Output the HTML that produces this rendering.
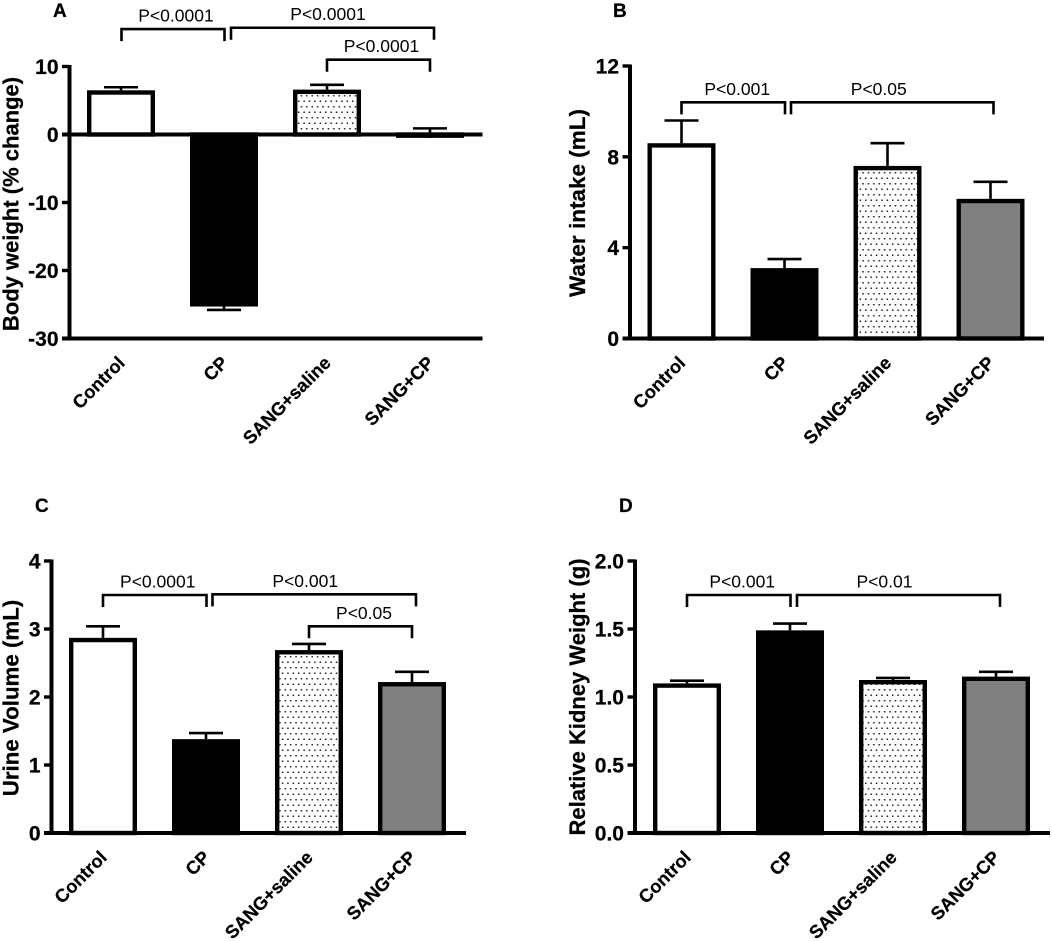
<!DOCTYPE html>
<html lang="en">
<head>
<meta charset="utf-8">
<title>Four-panel bar charts</title>
<style>
html,body{margin:0;padding:0;background:#fff;}
svg{display:block;}
text{font-family:"Liberation Sans",Arial,sans-serif;fill:#000;}
text[font-weight="bold"]{stroke:#000;stroke-width:0.25px;}
</style>
</head>
<body>
<svg id="figure" width="1052" height="941" viewBox="0 0 1052 941" xmlns="http://www.w3.org/2000/svg">
<defs>
<pattern id="dots" patternUnits="userSpaceOnUse" width="5.4" height="11">
<rect width="5.4" height="11" fill="#fff"/>
<rect x="1" y="1.5" width="1.5" height="1.5" fill="#222"/>
<rect x="3.7" y="7" width="1.5" height="1.5" fill="#222"/>
</pattern>
</defs>
</svg>
<script>
const categories = ['Control', 'CP', 'SANG+saline', 'SANG+CP'];

const valuesA = [6.5, -25.3, 6.6, -0.5];
const errorsA = [6.95, -25.8, 7.3, 0.9];
const ticksA = ['10', '0', '-10', '-20', '-30'];

const valuesB = [8.6, 3.1, 7.6, 6.15];
const errorsB = [9.6, 3.5, 8.6, 6.9];
const ticksB = ['12', '8', '4', '0'];

const valuesC = [2.87, 1.38, 2.69, 2.22];
const errorsC = [3.04, 1.47, 2.78, 2.37];
const ticksC = ['4', '3', '2', '1', '0'];

const valuesD = [1.1, 1.49, 1.125, 1.15];
const errorsD = [1.12, 1.54, 1.14, 1.185];
const ticksD = ['2.0', '1.5', '1.0', '0.5', '0.0'];

const svg = document.getElementById('figure');
const NS = 'http://www.w3.org/2000/svg';
const fills = ['#fff', '#000', 'url(#dots)', '#808080'];
const barNames = ['control', 'cp', 'sang-saline', 'sang-cp'];

function mk(tag, attrs, name, parent) {
  const el = document.createElementNS(NS, tag);
  for (const k in attrs) el.setAttribute(k, attrs[k]);
  
  
  (parent || svg).appendChild(el);
  return el;
}
function line(x1, y1, x2, y2, w, name, parent) {
  return mk('line', {x1: x1, y1: y1, x2: x2, y2: y2, stroke: '#000', 'stroke-width': w}, name, parent);
}
function label(x, y, str, size, weight, anchor, name, parent, transform) {
  const attrs = {x: x, y: y, 'font-size': size, 'font-weight': weight, 'text-anchor': anchor};
  if (transform) attrs.transform = transform;
  const t = mk('text', attrs, name, parent);
  t.textContent = str;
  return t;
}

function drawPanel(p) {
  const g = mk('g', {}, 'panel-' + p.id.toLowerCase());
  const y = v => p.top + (p.max - v) / (p.max - p.min) * (p.bottom - p.top);
  const x = i => p.x0 + i * 103;
  const tickVal = i => p.max - i * (p.max - p.min) / (p.ticks.length - 1);

  label(p.letterX, p.letterY, p.id, 19, 'bold', 'start', 'panel-letter-' + p.id.toLowerCase(), g);

  // bars
  p.values.forEach((v, i) => {
    const c = x(i);
    const err = p.errors[i];
    const errG = mk('g', {}, 'error-bar-' + barNames[i], g);
    line(c, y(v), c, y(err), 2.6, 'error-stem', errG);
    line(c - 17, y(err), c + 17, y(err), 2.6, 'error-cap', errG);
    const yv = y(v), y0 = y(p.base);
    const sw = 4.4;
    const rectTop = v >= p.base ? yv + sw / 2 : y0;
    const rectBot = v >= p.base ? y0 : yv - sw / 2;
    mk('rect', {
      x: c - 34 + sw / 2, y: rectTop, width: 68 - sw, height: Math.max(rectBot - rectTop, 0.1),
      fill: fills[i], stroke: '#000', 'stroke-width': sw
    }, 'bar-' + barNames[i], g);
  });

  // axes
  line(p.axisX, p.top - 1.5, p.axisX, p.bottom, 4, 'y-axis', g);
  line(p.axisX - 7.5, p.bottom, p.axisX + p.axisLen, p.bottom, 4, 'x-axis', g);
  if (p.min < 0) line(p.axisX - 7.5, y(0), p.axisX + p.axisLen, y(0), 4, 'zero-line', g);
  p.ticks.forEach((t, i) => {
    const ty = y(tickVal(i));
    line(p.axisX - 7.5, ty, p.axisX, ty, 3.4, 'y-tick', g);
    label(p.axisX - 11, ty + 7.5, t, 21, 'bold', 'end', 'y-tick-label', g);
  });

  // category labels
  categories.forEach((c, i) => {
    const lx = x(i) + 5, ly = p.bottom + 25.5;
    label(lx, ly, c, 18.3, 'bold', 'end', 'x-label-' + barNames[i], g, 'rotate(-45 ' + lx + ' ' + ly + ')');
  });

  // y title
  label(p.titleX, p.titleY, p.title, p.titleSize, 'bold', 'middle', 'y-axis-title', g, 'rotate(-90 ' + p.titleX + ' ' + p.titleY + ')');

  // significance brackets
  p.brackets.forEach(b => {
    const bg = mk('g', {}, 'significance-bracket', g);
    const xl = x(b.from) + b.dl, xr = x(b.to) + b.dr, yt = y(b.level);
    mk('path', {d: 'M' + xl + ' ' + (yt + 12) + 'V' + yt + 'H' + xr + 'V' + (yt + 12), fill: 'none', stroke: '#000', 'stroke-width': 2.6}, 'bracket-line', bg);
    label((xl + xr) / 2 + b.dt, yt - 7.5, b.text, 17.5, 'normal', 'middle', 'p-value-label', bg);
  });
}

drawPanel({
  id: 'A', title: 'Body weight (% change)', values: valuesA, errors: errorsA, ticks: ticksA,
  min: -30, max: 10, base: 0, top: 66.5, bottom: 338.5, x0: 121, axisX: 69.5, axisLen: 413,
  letterX: 53, letterY: 17, titleX: 18.5, titleY: 204, titleSize: 22,
  brackets: [
    {from: 0, to: 1, dl: 0.5, dr: 0.5, level: 15.5, text: 'P<0.0001', dt: 3},
    {from: 1, to: 3, dl: 7, dr: 4, level: 15.7, text: 'P<0.0001', dt: -4.5},
    {from: 2, to: 3, dl: 0, dr: 0, level: 11, text: 'P<0.0001', dt: 3}
  ]
});
drawPanel({
  id: 'B', title: 'Water intake (mL)', values: valuesB, errors: errorsB, ticks: ticksB,
  min: 0, max: 12, base: 0, top: 66, bottom: 338.5, x0: 681.5, axisX: 630, axisLen: 414,
  letterX: 613, letterY: 17, titleX: 585, titleY: 203, titleSize: 22.5,
  brackets: [
    {from: 0, to: 1, dl: 0, dr: 0.5, level: 10.4, text: 'P<0.001', dt: 4},
    {from: 1, to: 3, dl: 6.5, dr: 3, level: 10.4, text: 'P<0.05', dt: -13.5}
  ]
});
drawPanel({
  id: 'C', title: 'Urine Volume (mL)', values: valuesC, errors: errorsC, ticks: ticksC,
  min: 0, max: 4, base: 0, top: 561, bottom: 833, x0: 103, axisX: 51.5, axisLen: 414.5,
  letterX: 35, letterY: 512, titleX: 18.5, titleY: 698, titleSize: 22.3,
  brackets: [
    {from: 0, to: 1, dl: 0, dr: 0.5, level: 3.5, text: 'P<0.0001', dt: 3},
    {from: 1, to: 3, dl: 6.5, dr: 4, level: 3.51, text: 'P<0.001', dt: -9},
    {from: 2, to: 3, dl: 0, dr: 0, level: 3.04, text: 'P<0.05', dt: 3.5}
  ]
});
drawPanel({
  id: 'D', title: 'Relative Kidney Weight (g)', values: valuesD, errors: errorsD, ticks: ticksD,
  min: 0, max: 2, base: 0, top: 561, bottom: 833, x0: 687, axisX: 635, axisLen: 415,
  letterX: 619, letterY: 512, titleX: 585, titleY: 697, titleSize: 22,
  brackets: [
    {from: 0, to: 1, dl: 0, dr: 0.5, level: 1.75, text: 'P<0.001', dt: 3.5},
    {from: 1, to: 3, dl: 7, dr: 4, level: 1.75, text: 'P<0.01', dt: -14}
  ]
});
</script>
</body>
</html>
